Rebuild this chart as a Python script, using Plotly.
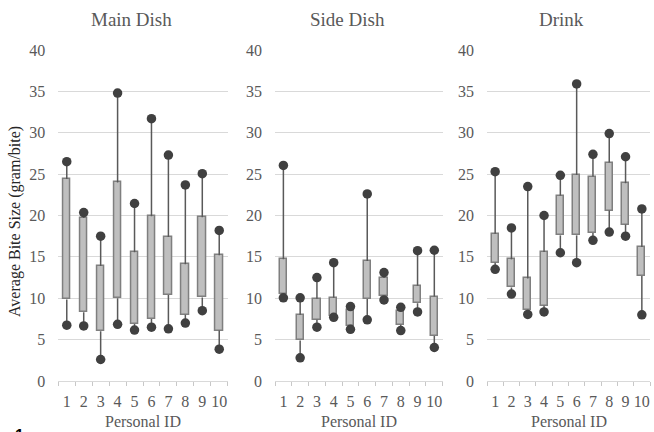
import plotly.graph_objects as go

# Average bite size (gram/bite) per participant: min, Q1, Q3, max
person_ids = [1, 2, 3, 4, 5, 6, 7, 8, 9, 10]

main_min = [6.75, 6.65, 2.6, 6.85, 6.15, 6.5, 6.3, 7.0, 8.5, 3.85]
main_q1 = [9.85, 8.3, 6.0, 10.0, 6.9, 7.5, 10.4, 8.0, 10.1, 6.1]
main_q3 = [24.4, 19.7, 13.9, 24.0, 15.55, 19.9, 17.4, 14.1, 19.8, 15.2]
main_max = [26.5, 20.35, 17.5, 34.8, 21.45, 31.7, 27.3, 23.7, 25.05, 18.2]

side_min = [10.05, 2.8, 6.5, 7.7, 6.25, 7.4, 9.8, 6.1, 8.35, 4.05]
side_q1 = [10.5, 4.9, 7.4, 7.9, 6.7, 9.9, 10.3, 6.8, 9.4, 5.45]
side_q3 = [14.7, 8.0, 9.95, 10.05, 8.55, 14.5, 12.45, 8.4, 11.5, 10.2]
side_max = [26.05, 10.05, 12.5, 14.3, 9.0, 22.6, 13.1, 8.9, 15.75, 15.8]

drink_min = [13.5, 10.5, 8.05, 8.35, 15.5, 14.3, 17.0, 18.0, 17.5, 8.0]
drink_q1 = [14.3, 11.3, 8.6, 9.1, 17.6, 17.6, 17.9, 20.6, 18.9, 12.7]
drink_q3 = [17.8, 14.7, 12.4, 15.6, 22.4, 24.9, 24.7, 26.4, 23.9, 16.2]
drink_max = [25.3, 18.5, 23.5, 20.0, 24.85, 35.9, 27.4, 29.9, 27.1, 20.8]

panel_titles = ["Main Dish", "Side Dish", "Drink"]
x_title = "Personal ID"
y_title = "Average Bite Size (gram/bite)"

panels = [
    (main_min, main_q1, main_q3, main_max),
    (side_min, side_q1, side_q3, side_max),
    (drink_min, drink_q1, drink_q3, drink_max),
]

W, H = 654, 432
FONT = "Liberation Serif, Times New Roman, serif"
TEXT = "#595959"
GRID = "#D9D9D9"

# plot-area edges in pixels
x_left = [58.3, 275.0, 487.0]
x_right = [227.7, 442.7, 650.0]
y_zero_px, y_top_px = 381.0, 50.0

fig = go.Figure()

for k, (lo, q1, q3, hi) in enumerate(panels):
    xa = "x" if k == 0 else f"x{k + 1}"
    ya = "y" if k == 0 else f"y{k + 1}"

    # whisker segments outside the box
    lx, ly = [], []
    for i, pid in enumerate(person_ids):
        lx += [pid, pid, None, pid, pid, None]
        ly += [lo[i], q1[i], None, q3[i], hi[i], None]
    fig.add_trace(go.Scatter(
        x=lx, y=ly, mode="lines", xaxis=xa, yaxis=ya,
        line=dict(color="#595959", width=1.5), hoverinfo="skip",
        showlegend=False,
    ))

    # interquartile box
    fig.add_trace(go.Bar(
        x=person_ids, base=q1, y=[b - a for a, b in zip(q1, q3)],
        width=0.43, xaxis=xa, yaxis=ya,
        marker=dict(color="#BFBFBF", line=dict(color="#7F7F7F", width=1.5)),
        showlegend=False,
    ))

    # min / max markers
    fig.add_trace(go.Scatter(
        x=person_ids + person_ids, y=lo + hi, mode="markers",
        xaxis=xa, yaxis=ya,
        marker=dict(color="#404040", size=9.5, line=dict(width=0)),
        showlegend=False,
    ))

layout = dict(
    width=W, height=H,
    margin=dict(l=0, r=0, t=0, b=0, autoexpand=False),
    paper_bgcolor="white", plot_bgcolor="white",
    font=dict(family=FONT, color=TEXT, size=16),
    showlegend=False,
    bargap=0,
)

for k in range(3):
    x0, x1 = x_left[k], x_right[k]
    xname = "xaxis" if k == 0 else f"xaxis{k + 1}"
    yname = "yaxis" if k == 0 else f"yaxis{k + 1}"
    anchor_x = "x" if k == 0 else f"x{k + 1}"
    anchor_y = "y" if k == 0 else f"y{k + 1}"
    layout[xname] = dict(
        domain=[x0 / W, x1 / W], anchor=anchor_y, automargin=False,
        range=[0.5, 10.5], tickmode="array", tickvals=person_ids,
        ticktext=[str(p) for p in person_ids], tickangle=0,
        ticks="", showgrid=False, zeroline=False,
        showline=True, linecolor=GRID, linewidth=1,
        minor=dict(tick0=0.5, dtick=1, ticks="outside", ticklen=4,
                   tickcolor="#C8C8C8", tickwidth=1, showgrid=False),
        tickfont=dict(family=FONT, color=TEXT, size=16),
        ticklabelstandoff=6, ticklabeloverflow="allow",
        fixedrange=True,
    )
    layout[yname] = dict(
        domain=[(H - y_zero_px) / H, (H - y_top_px) / H], anchor=anchor_x,
        automargin=False,
        range=[0, 40], dtick=5, tick0=0,
        showgrid=True, gridcolor=GRID, gridwidth=1,
        zeroline=False, showline=False, ticks="",
        tickfont=dict(family=FONT, color=TEXT, size=16),
        ticklabelstandoff=12,
        fixedrange=True,
    )

fig.update_layout(**layout)

# panel titles
title_cx = [131.0, 347.5, 561.0]
for t, cx in zip(panel_titles, title_cx):
    fig.add_annotation(
        text=t, x=cx / W, y=1 - 20 / H, xref="paper", yref="paper",
        xanchor="center", yanchor="middle", showarrow=False,
        font=dict(family=FONT, color=TEXT, size=19),
    )

# x-axis titles under each panel
for k in range(3):
    cx = (x_left[k] + x_right[k]) / 2
    fig.add_annotation(
        text=x_title, x=cx / W, y=1 - 421.5 / H, xref="paper", yref="paper",
        xanchor="center", yanchor="middle", showarrow=False,
        font=dict(family=FONT, color=TEXT, size=16),
    )

# shared y-axis title
fig.add_annotation(
    text=y_title, x=15 / W, y=1 - 222 / H, xref="paper", yref="paper",
    xanchor="center", yanchor="middle", textangle=-90, showarrow=False,
    font=dict(family=FONT, color="#262626", size=16),
)

# figure part label at the lower-left corner
fig.add_annotation(
    text="<b>1</b>", x=13 / W, y=1 - 425 / H, xref="paper", yref="paper",
    xanchor="left", yanchor="top", showarrow=False,
    font=dict(family="Liberation Sans, Arial, sans-serif", color="black", size=16),
)

fig.write_html("out.html")
